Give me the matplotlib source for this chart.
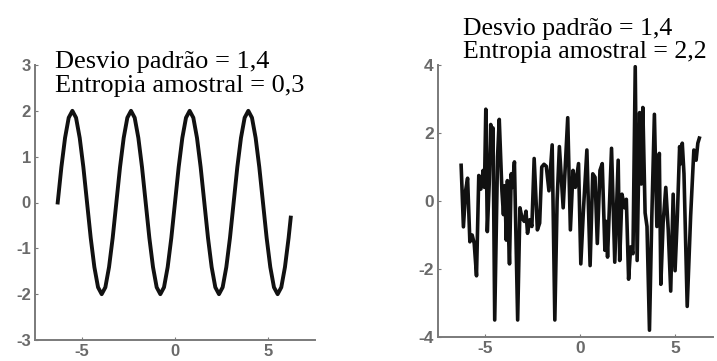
import numpy as np
import matplotlib
matplotlib.use('Agg')
import matplotlib.pyplot as plt

plt.rcParams['axes.unicode_minus'] = False

# left panel: smooth oscillation, samples every pi/16 from -2*pi
sine_x = list(np.arange(64) * np.pi / 16 - 2 * np.pi) + [6.2]
sine_y = [
    0, 0.77, 1.41, 1.85, 2, 1.85, 1.41, 0.77, 0, -0.77, -1.41, -1.85, -2, -1.85, -1.41, -0.77,
    0, 0.77, 1.41, 1.85, 2, 1.85, 1.41, 0.77, 0, -0.77, -1.41, -1.85, -2, -1.85, -1.41, -0.77,
    0, 0.77, 1.41, 1.85, 2, 1.85, 1.41, 0.77, 0, -0.77, -1.41, -1.85, -2, -1.85, -1.41, -0.77,
    0, 0.77, 1.41, 1.85, 2, 1.85, 1.41, 0.77, 0, -0.77, -1.41, -1.85, -2, -1.85, -1.41, -0.77,
    -0.33,
]

# right panel: irregular signal
noise_x = [
    -6.28, -6.16, -6.04, -5.94, -5.82, -5.70, -5.59, -5.47, -5.35, -5.24,
    -5.12, -5.05, -4.98, -4.90, -4.80, -4.72, -4.66, -4.60, -4.51, -4.36,
    -4.27, -4.13, -4.05, -3.98, -3.90, -3.84, -3.78, -3.73, -3.64, -3.58,
    -3.47, -3.30, -3.18, -3.07, -2.95, -2.86, -2.78, -2.66, -2.55, -2.43,
    -2.26, -2.14, -2.03, -1.91, -1.79, -1.65, -1.48, -1.34, -1.22, -1.10,
    -0.90, -0.66, -0.52, -0.38, -0.26, -0.09, 0.03, 0.17, 0.35, 0.52,
    0.66, 0.78, 0.90, 1.04, 1.16, 1.30, 1.37, 1.44, 1.65, 1.82,
    2.00, 2.08, 2.20, 2.34, 2.43, 2.55, 2.66, 2.78, 2.90, 3.00,
    3.13, 3.22, 3.30, 3.42, 3.52, 3.65, 3.77, 3.91, 4.04, 4.17,
    4.25, 4.37, 4.51, 4.64, 4.77, 4.90, 5.00, 5.12, 5.24, 5.32,
    5.38, 5.47, 5.64, 5.82, 5.99, 6.11, 6.20, 6.28,
]
noise_y = [
    1.05, -0.76, 0.32, 0.67, -1.2, -1.0, -1.25, -2.2, 0.75, 0.35,
    0.9, 0.4, 2.7, -0.9, 0.5, 2.25, 1.2, 2.15, -3.5, 1.3,
    2.4, 0.3, -0.4, 0.45, -1.15, 0.6, -1.0, -1.85, 0.8, 0.4,
    1.15, -3.5, -0.2, -0.5, -0.6, -0.3, -0.95, -0.55, -0.75, 1.25,
    -0.85, -0.65, 1.0, 1.08, 1.02, 0.3, 1.65, -3.5, 0.0, 1.6,
    -0.2, 2.45, -0.85, 0.9, 0.4, 1.1, -1.85, -0.25, 1.5, -1.9,
    0.8, 0.7, -1.25, 0.9, 1.1, -1.45, -0.6, -1.65, 1.55, -1.8,
    1.2, -1.75, 0.2, -0.2, 0.05, -2.3, -1.35, -1.55, 3.95, -1.75,
    2.6, 0.5, 2.75, -0.35, -0.75, -3.8, -0.55, 2.55, -0.75, 1.4,
    -2.45, -0.65, 0.4, -0.85, -2.65, 0.2, -2.05, -0.45, 1.6, 1.1,
    1.7, 0.8, -3.1, -0.45, 1.5, 1.2, 1.7, 1.85,
]

left_text = ['Desvio padrão = 1,4', 'Entropia amostral = 0,3']
right_text = ['Desvio padrão = 1,4', 'Entropia amostral = 2,2']

W, H = 717, 361
fig = plt.figure(figsize=(W / 100, H / 100), dpi=100)


def style(ax, size):
    for s in ['top', 'right']:
        ax.spines[s].set_visible(False)
    for s in ['left', 'bottom']:
        ax.spines[s].set_color('#7a7a7a')
        ax.spines[s].set_linewidth(1.4)
    ax.tick_params(direction='in', length=2.5, width=0.8, color='#7a7a7a',
                   labelsize=size, labelcolor='#6a6a6a', pad=3)
    for lab in ax.get_xticklabels() + ax.get_yticklabels():
        lab.set_family('Liberation Sans')
        lab.set_fontweight('bold')


ax1 = fig.add_axes([35 / W, 1 - 340 / H, 280 / W, 275 / H])
ax1.plot(sine_x, sine_y, color='#111111', lw=2.8, solid_joinstyle='round')
ax1.set_xlim(-7.5, 7.5)
ax1.set_ylim(-3, 3)
ax1.set_xticks([-5, 0, 5])
ax1.set_yticks([-3, -2, -1, 0, 1, 2, 3])
style(ax1, 12)

ax2 = fig.add_axes([438 / W, 1 - 337 / H, 275 / W, 272 / H])
ax2.plot(noise_x, noise_y, color='#111111', lw=2.6, solid_joinstyle='round')
ax2.set_xlim(-7.5, 7)
ax2.set_ylim(-4, 4)
ax2.set_xticks([-5, 0, 5])
ax2.set_yticks([-4, -2, 0, 2, 4])
style(ax2, 12.5)

for i, t in enumerate(left_text):
    fig.text(55 / W, 1 - (68 + 24 * i) / H, t, family='Liberation Serif',
             fontsize=19, va='baseline', ha='left')
for i, t in enumerate(right_text):
    fig.text(463 / W, 1 - (35 + 23 * i) / H, t, family='Liberation Serif',
             fontsize=18.5, va='baseline', ha='left')

fig.savefig('out.png', dpi=100)
